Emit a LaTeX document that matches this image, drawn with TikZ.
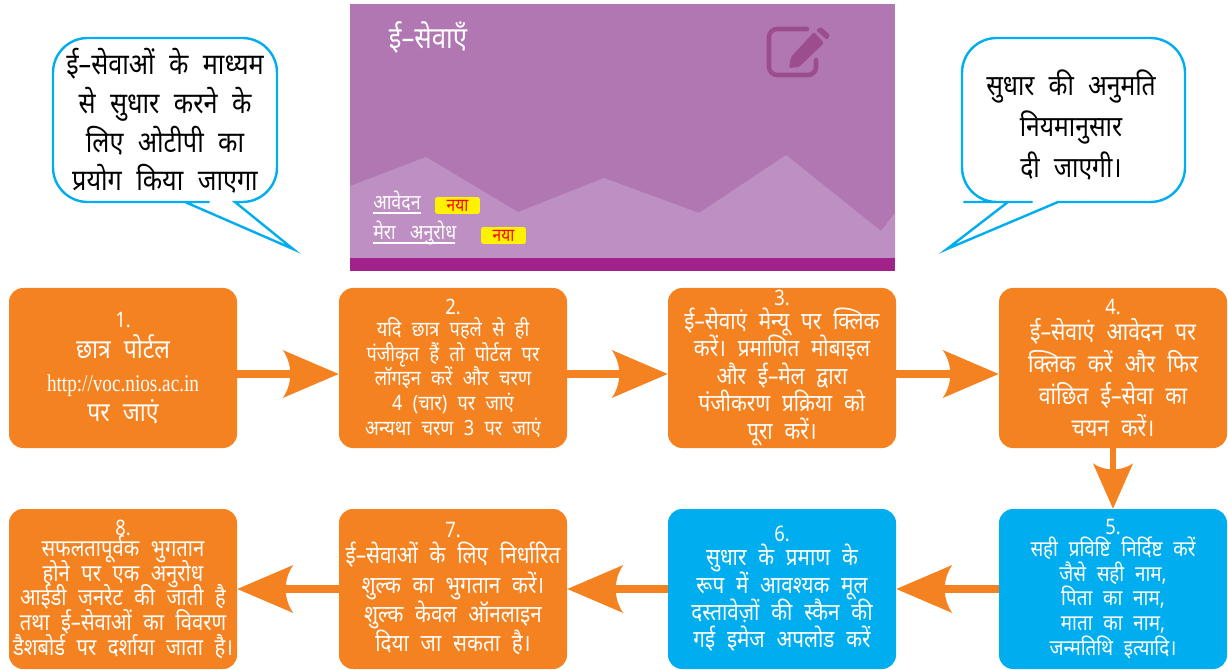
\documentclass[tikz,border=0pt]{standalone}
\usepackage{fontspec}
\setmainfont[Script=Devanagari,FakeStretch=0.86,WordSpace=2.2]{Noto Sans}
\newfontfamily\urlfont[FakeStretch=0.8]{Liberation Serif}
\usetikzlibrary{arrows.meta}
\definecolor{orangebox}{HTML}{F58220}
\definecolor{bluebox}{HTML}{00AEEF}
\definecolor{mauve}{HTML}{B077B2}
\definecolor{mauvelight}{HTML}{BE8FC2}
\definecolor{mauvebar}{HTML}{A0228A}
\definecolor{mauveicon}{HTML}{9C4D8E}
\definecolor{badge}{HTML}{FFF200}
\newcommand{\dvsize}[2]{\fontsize{#1}{#2}\selectfont\lineskiplimit=-50pt\relax}
\pgfdeclarearrow{
  name=CurvedTip,
  setup code={
    \pgfarrowssettipend{0pt}
    \pgfarrowssetbackend{-\pgfarrowlength}
    \pgfarrowssetlineend{-0.8\pgfarrowlength}
    \pgfarrowssetvisualbackend{-0.8\pgfarrowlength}
    \pgfarrowssavethe\pgfarrowlength
    \pgfarrowssavethe\pgfarrowwidth
  },
  drawing code={
    \pgfpathmoveto{\pgfpointorigin}
    \pgfpathlineto{\pgfpoint{-\pgfarrowlength}{0.5\pgfarrowwidth}}
    \pgfpathcurveto{\pgfpoint{-0.82\pgfarrowlength}{0.2\pgfarrowwidth}}
      {\pgfpoint{-0.82\pgfarrowlength}{-0.2\pgfarrowwidth}}
      {\pgfpoint{-\pgfarrowlength}{-0.5\pgfarrowwidth}}
    \pgfpathclose
    \pgfusepathqfill
  },
  parameters={\the\pgfarrowlength,\the\pgfarrowwidth},
  defaults={length=40pt,width=36pt}
}
\tikzset{
  stepbox/.style={rounded corners=10.5pt,minimum width=171pt,minimum height=120pt,inner sep=0pt,align=center,text=white},
  orangestep/.style={stepbox,fill=orangebox},
  bluestep/.style={stepbox,fill=bluebox},
  flow/.style={draw=orangebox,line width=6.5pt,-{CurvedTip[length=42pt,width=36pt]},color=orangebox},
  downflow/.style={draw=orangebox,line width=5.2pt,-{CurvedTip[length=34pt,width=30pt]},color=orangebox},
  bubble/.style={draw=bluebox,line width=1.8pt,fill=white,miter limit=12},
  bubbletext/.style={align=center,text=black,inner sep=0pt},
  paneltext/.style={text=white,inner sep=0pt},
  navlink/.style={paneltext,anchor=base west},
  newbadge/.style={fill=badge,rounded corners=1.5pt,text=red,minimum width=33.5pt,minimum height=12.5pt,inner sep=0pt}
}
\begin{document}
\begin{tikzpicture}[x=0.75pt,y=-0.75pt]
\useasboundingbox (0,0) rectangle (1228,670);
\fill[white] (0,0) rectangle (1228,670);
% panel
\fill[mauve] (350,4) rectangle (895,271);
\fill[mauvelight] (350,186) -- (426,157) -- (518,212) -- (604,178) -- (699,213) -- (786,155) -- (881,231) -- (895,213) -- (895,258) -- (350,258) -- cycle;
\fill[mauvebar] (350,258) rectangle (895,271);
\node[paneltext,anchor=center] (paneltitle) at (428,37) {\dvsize{22.5}{26}ई–सेवाएँ};
% icon
\draw[mauveicon,line width=3.4pt,line cap=round,rounded corners=6pt] (807,29) -- (769,29) -- (769,75) -- (816,75) -- (816,60);
\fill[mauveicon,rounded corners=1pt] (791,57) -- (814,32) -- (824,43) -- (799,67) -- (789,68) -- cycle;
\fill[mauveicon,rounded corners=1pt] (816,30) -- (821,27) -- (830,35) -- (827,40) -- cycle;
% nav
\node[navlink] (nava) at (373,210) {\dvsize{15.5}{18}आवेदन};
\draw[white,line width=0.9pt] (373,213) -- (421,213);
\node[newbadge] (newa) at (457.5,205.5) {\dvsize{13.5}{14}नया};
\node[navlink] (navb) at (373,240) {\dvsize{15.5}{18}मेरा\hspace{3pt} अनुरोध};
\draw[white,line width=0.9pt] (373,243) -- (455,243);
\node[newbadge] (newb) at (503.5,235.5) {\dvsize{13.5}{14}नया};
% bubbles
\draw[bubble] (185,202) -- (293,249) -- (235,202) -- (245,202) [rounded corners=26pt] -- (277,202) -- (277,38) -- (53,38) -- (53,202) -- (175,202) [sharp corners] -- cycle;
\node[bubbletext,font=\dvsize{22}{29}] (lefttext) at (165,121) {ई–सेवाओं के माध्यम\\से सुधार करने के\\लिए ओटीपी का\\प्रयोग किया जाएगा};
\draw[bubble] (1008,202) -- (947,249) -- (1058,202) -- (1068,202) [rounded corners=26pt] -- (1185,202) -- (1185,38) -- (962,38) -- (962,202) -- (998,202) [sharp corners] -- cycle;
\node[bubbletext,font=\dvsize{21.5}{31}] (righttext) at (1071,125) {सुधार की अनुमति\\नियमानुसार\\दी जाएगी।};
% steps
\node[orangestep,font=\dvsize{20}{25}] (s1) at (123,368) {{\dvsize{16}{25}1.}\\[-2pt]छात्र पोर्टल\\{\urlfont\fontsize{18}{25}\selectfont http://voc.nios.ac.in}\\[-2.5pt]पर जाएं};
\node[orangestep,font=\dvsize{15.8}{18.5}] (s2) at (453,368) {{\dvsize{16}{18}2.}\\[-2pt]यदि छात्र पहले से ही\\पंजीकृत हैं तो पोर्टल पर\\लॉगइन करें और चरण\\4 (चार) पर जाएं\\अन्यथा चरण 3 पर जाएं};
\node[orangestep,font=\dvsize{18}{20.7}] (s3) at (782,368) {{\dvsize{16}{18}3.}\\[-3pt]ई–सेवाएं मेन्यू पर क्लिक\\करें। प्रमाणित मोबाइल\\और ई–मेल द्वारा\\पंजीकरण प्रक्रिया को\\पूरा करें।};
\node[orangestep,font=\dvsize{18.5}{24}] (s4) at (1113,368) {{\dvsize{16}{18}4.}\\[-5pt]ई–सेवाएं आवेदन पर\\क्लिक करें और फिर\\वांछित ई–सेवा का\\चयन करें।};
\node[bluestep,font=\dvsize{16.4}{18.5}] (s5) at (1113,589) {{\dvsize{16}{18}5.}\\[-2pt]सही प्रविष्टि निर्दिष्ट करें\\जैसे सही नाम,\\पिता का नाम,\\माता का नाम,\\जन्मतिथि इत्यादि।};
\node[bluestep,font=\dvsize{18}{20.5}] (s6) at (782,589) {{\dvsize{16}{18}6.}\\[-2.5pt]सुधार के प्रमाण के\\रूप में आवश्यक मूल\\दस्तावेज़ों की स्कैन की\\गई इमेज अपलोड करें};
\node[orangestep,font=\dvsize{18}{22}] (s7) at (453,589) {{\dvsize{16}{18}7.}\\[-2.5pt]ई–सेवाओं के लिए निर्धारित\\शुल्क का भुगतान करें।\\शुल्क केवल ऑनलाइन\\दिया जा सकता है।};
\node[orangestep,font=\dvsize{17.6}{18.5}] (s8) at (123,589) {{\dvsize{16}{18}8.}\\[-2.5pt]सफलतापूर्वक भुगतान\\होने पर एक अनुरोध\\आईडी जनरेट की जाती है\\तथा ई–सेवाओं का विवरण\\डैशबोर्ड पर दर्शाया जाता है।};
% connectors
\draw[flow] ([yshift=-4.5pt]s1.east) -- ([yshift=-4.5pt]s2.west);
\draw[flow] ([yshift=-4.5pt]s2.east) -- ([yshift=-4.5pt]s3.west);
\draw[flow] ([yshift=-4.5pt]s3.east) -- ([yshift=-4.5pt]s4.west);
\draw[downflow] (s4.south) -- (s5.north);
\draw[flow] (s5.west) -- (s6.east);
\draw[flow] (s6.west) -- (s7.east);
\draw[flow] (s7.west) -- (s8.east);
\end{tikzpicture}
\end{document}
